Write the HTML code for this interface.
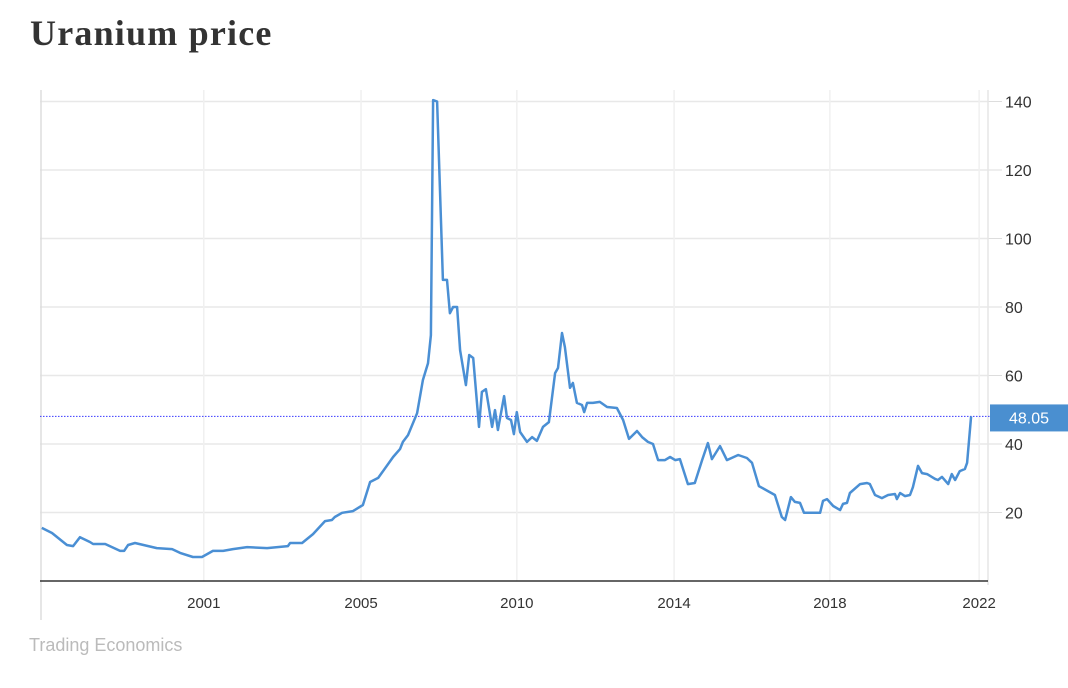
<!DOCTYPE html>
<html><head><meta charset="utf-8"><style>
body{margin:0;background:#fff;width:1068px;height:688px;overflow:hidden;position:relative;font-family:"Liberation Sans",sans-serif}
#title{position:absolute;left:30px;top:12px;font-family:"Liberation Serif",serif;font-weight:bold;font-size:36px;letter-spacing:1.2px;color:#333;margin:0}
#src{position:absolute;left:29px;top:635px;font-size:18px;color:#bbb}
svg{position:absolute;left:0;top:0}
</style></head><body>
<h1 id="title">Uranium price</h1>
<svg id="chart" width="1068" height="688"></svg>
<div id="src">Trading Economics</div>
<script>
const years=[1996.25,1996.53,1996.94,1997.11,1997.30,1997.57,1997.66,1997.99,1998.40,1998.51,1998.62,1998.81,1999.41,1999.83,2000.05,2000.40,2000.65,2000.95,2001.23,2001.50,2001.89,2002.44,2003.01,2003.07,2003.40,2003.70,2004.03,2004.22,2004.30,2004.50,2004.80,2005.07,2005.27,2005.49,2005.90,2006.09,2006.17,2006.31,2006.56,2006.72,2006.86,2006.94,2007.00,2007.11,2007.27,2007.38,2007.46,2007.55,2007.66,2007.74,2007.90,2007.99,2008.10,2008.26,2008.34,2008.45,2008.62,2008.70,2008.78,2008.95,2009.03,2009.14,2009.22,2009.30,2009.39,2009.58,2009.72,2009.85,2010.02,2010.18,2010.35,2010.43,2010.54,2010.62,2010.76,2010.84,2010.95,2011.09,2011.15,2011.23,2011.39,2011.58,2011.78,2012.05,2012.22,2012.38,2012.60,2012.74,2012.90,2013.04,2013.18,2013.37,2013.51,2013.65,2013.78,2014.00,2014.19,2014.39,2014.55,2014.66,2014.88,2015.07,2015.38,2015.62,2015.76,2015.95,2016.39,2016.58,2016.67,2016.83,2016.94,2017.08,2017.19,2017.35,2017.63,2017.71,2017.82,2017.99,2018.18,2018.26,2018.37,2018.45,2018.73,2018.92,2019.00,2019.14,2019.33,2019.50,2019.69,2019.74,2019.83,2019.96,2020.10,2020.18,2020.32,2020.43,2020.57,2020.79,2020.87,2020.98,2021.15,2021.25,2021.34,2021.47,2021.61,2021.67,2021.78];
const prices=[15.5,14,10.5,10.2,12.8,11.4,10.8,10.8,8.8,8.8,10.5,11.1,9.6,9.3,8.2,7,7,8.8,8.8,9.3,9.9,9.6,10.2,11.1,11.1,13.7,17.5,17.8,18.7,19.9,20.4,22.2,28.9,30.1,36.2,38.5,40.6,42.6,49,58.7,63.6,71.8,140.4,140,87.9,87.9,78.2,80,80,67.4,57.2,66,65.1,45,55.2,56,45,49.9,44.1,54,47.6,47,42.9,49.3,43.5,40.6,42,40.9,45,46.4,60.7,62.2,72.4,68.3,56.4,57.8,52,51.4,49.3,52,52,52.3,50.8,50.5,47,41.5,43.8,42,40.6,40,35.3,35.3,36.2,35.3,35.6,28.3,28.6,35.3,40.3,35.6,39.4,35.3,36.8,35.9,34.5,27.7,25.1,18.7,17.8,24.5,23.1,22.8,19.9,19.9,19.9,23.4,23.9,21.9,20.7,22.5,22.8,25.7,28.3,28.6,28.3,25.1,24.2,25.1,25.4,23.9,25.7,24.8,25.1,27.4,33.6,31.5,31.2,29.8,29.5,30.4,28.3,31.2,29.5,32.1,32.7,34.5,48.05];
const xTicks=[2000.7,2005.02,2009.3,2013.62,2017.9,2022.0];
const xTickLabels=["2001","2005","2010","2014","2018","2022"];
const yTicks=[20,40,60,80,100,120,140];
const lastValue=48.05;

const NS="http://www.w3.org/2000/svg";
const svg=document.getElementById('chart');
const X=y=>40+(y-1996.2)*36.4;
const Y=v=>581-v*3.425;
function mk(t,a,p){const e=document.createElementNS(NS,t);for(const k in a)e.setAttribute(k,a[k]);(p||svg).appendChild(e);return e;}

yTicks.forEach(v=>{
  const g=mk('line',{x1:40,x2:988,y1:Y(v),y2:Y(v),stroke:'#e8e8e8','stroke-width':1.5});
  
  
  const tk=mk('line',{x1:988,x2:1002,y1:Y(v),y2:Y(v),stroke:'#ddd','stroke-width':1});
  
  
  const t=mk('text',{x:1005,y:Y(v)+6,'font-size':16,fill:'#333'});
  t.textContent=v;
  
  
});
xTicks.forEach((d,i)=>{
  const g=mk('line',{x1:X(d),x2:X(d),y1:90,y2:581,stroke:'#f0f0f0','stroke-width':1.5});
  
  
  const t=mk('text',{x:X(d),y:608,'font-size':15,fill:'#333','text-anchor':'middle'});
  t.textContent=xTickLabels[i];
  
  
});
const la=mk('line',{x1:41,x2:41,y1:90,y2:620,stroke:'#ddd','stroke-width':1.5});


const ra=mk('line',{x1:988,x2:988,y1:90,y2:585,stroke:'#e6e6e6','stroke-width':1.5});


const ba=mk('line',{x1:40,x2:988,y1:581,y2:581,stroke:'#333','stroke-width':1.5});



const ref=mk('line',{x1:40,x2:990,y1:Y(lastValue),y2:Y(lastValue),stroke:'#3a3aff','stroke-width':1,'stroke-dasharray':'1.5,1.5'});



const path=mk('path',{d:years.map((d,i)=>(i?'L':'M')+X(d).toFixed(1)+','+Y(prices[i]).toFixed(1)).join(''),fill:'none',stroke:'#4a8fd4','stroke-width':2.5,'stroke-linejoin':'round'});



const box=mk('rect',{x:990,y:Y(lastValue)-12,width:78,height:27,fill:'#4a8fd0'});


const bt=mk('text',{x:1029,y:Y(lastValue)+7,'font-size':16,fill:'#fff','text-anchor':'middle'});
bt.textContent=lastValue.toFixed(2);


</script>
</body></html>
